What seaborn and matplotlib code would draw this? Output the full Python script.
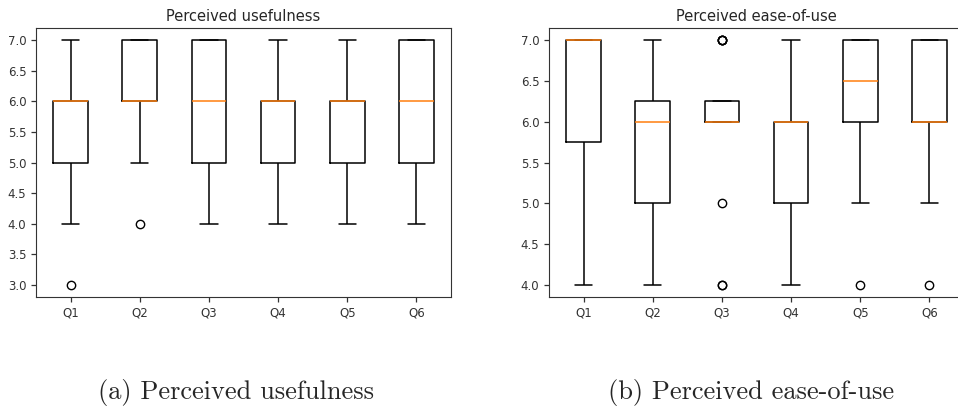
import pandas as pd
import matplotlib.pyplot as plt
import seaborn as sns

# ==========================================
# DATA: Likert responses per question (16 participants)
# ==========================================
questions = ["Q1", "Q2", "Q3", "Q4", "Q5", "Q6"]

usefulness_q1 = [3, 4, 5, 5, 5, 5, 5, 6, 6, 6, 6, 6, 6, 6, 7, 7]
usefulness_q2 = [4, 5, 6, 6, 6, 6, 6, 6, 6, 6, 7, 7, 7, 7, 7, 7]
usefulness_q3 = [4, 5, 5, 5, 5, 6, 6, 6, 6, 6, 7, 7, 7, 7, 7, 7]
usefulness_q4 = [4, 4, 5, 5, 5, 5, 6, 6, 6, 6, 6, 6, 6, 7, 7, 7]
usefulness_q5 = [4, 5, 5, 5, 5, 6, 6, 6, 6, 6, 6, 6, 6, 7, 7, 7]
usefulness_q6 = [4, 4, 5, 5, 5, 5, 6, 6, 6, 6, 6, 7, 7, 7, 7, 7]

ease_q1 = [4, 4, 5, 5, 6, 6, 7, 7, 7, 7, 7, 7, 7, 7, 7, 7]
ease_q2 = [4, 4, 5, 5, 5, 5, 6, 6, 6, 6, 6, 6, 7, 7, 7, 7]
ease_q3 = [4, 4, 5, 6, 6, 6, 6, 6, 6, 6, 6, 6, 7, 7, 7, 7]
ease_q4 = [4, 4, 5, 5, 5, 5, 6, 6, 6, 6, 6, 6, 6, 7, 7, 7]
ease_q5 = [4, 5, 6, 6, 6, 6, 6, 6, 7, 7, 7, 7, 7, 7, 7, 7]
ease_q6 = [4, 5, 6, 6, 6, 6, 6, 6, 6, 7, 7, 7, 7, 7, 7, 7]

usefulness = [usefulness_q1, usefulness_q2, usefulness_q3,
              usefulness_q4, usefulness_q5, usefulness_q6]
ease = [ease_q1, ease_q2, ease_q3, ease_q4, ease_q5, ease_q6]

titles = ["Perceived usefulness", "Perceived ease-of-use"]
captions = ["(a) Perceived usefulness", "(b) Perceived ease-of-use"]


def to_long(groups):
    rows = []
    for q, vals in zip(questions, groups):
        for v in vals:
            rows.append({"question": q, "score": v})
    return pd.DataFrame(rows)


# ==========================================
# PLOT
# ==========================================
sns.set_style("ticks", rc={"axes.edgecolor": "0.2", "xtick.color": "0.2",
                           "ytick.color": "0.2", "text.color": "0.15",
                           "axes.linewidth": 1.0})
plt.rcParams["font.family"] = ["DejaVu Sans"]

fig = plt.figure(figsize=(9.58, 4.09), dpi=100)
ax1 = fig.add_axes([36 / 958, 112 / 409, 415 / 958, 269 / 409])
ax2 = fig.add_axes([549 / 958, 112 / 409, 415 / 958, 269 / 409])

for ax, groups, title in zip([ax1, ax2], [usefulness, ease], titles):
    sns.boxplot(
        data=to_long(groups), x="question", y="score", order=questions,
        color="black", fill=False, width=0.5, linewidth=1.1, fliersize=6,
        medianprops={"color": "#ff7f0e"},
        flierprops={"marker": "o", "markerfacecolor": "none",
                    "markeredgecolor": "black"},
        ax=ax,
    )
    ax.set_title(title, fontsize=10.5, pad=5)
    ax.set_xlabel("")
    ax.set_ylabel("")
    ax.tick_params(labelsize=8.5, length=3.5, width=0.9)
    ax.yaxis.set_major_formatter(plt.FormatStrFormatter("%.1f"))

ax1.set_ylim(2.8, 7.2)
ax2.set_ylim(3.85, 7.15)

fig.text(236 / 958, 1 - 392 / 409, captions[0], family="cmr10",
         fontsize=19, ha="center", va="center")
fig.text(751 / 958, 1 - 392 / 409, captions[1], family="cmr10",
         fontsize=19, ha="center", va="center")

fig.savefig("out.png", dpi=100)
